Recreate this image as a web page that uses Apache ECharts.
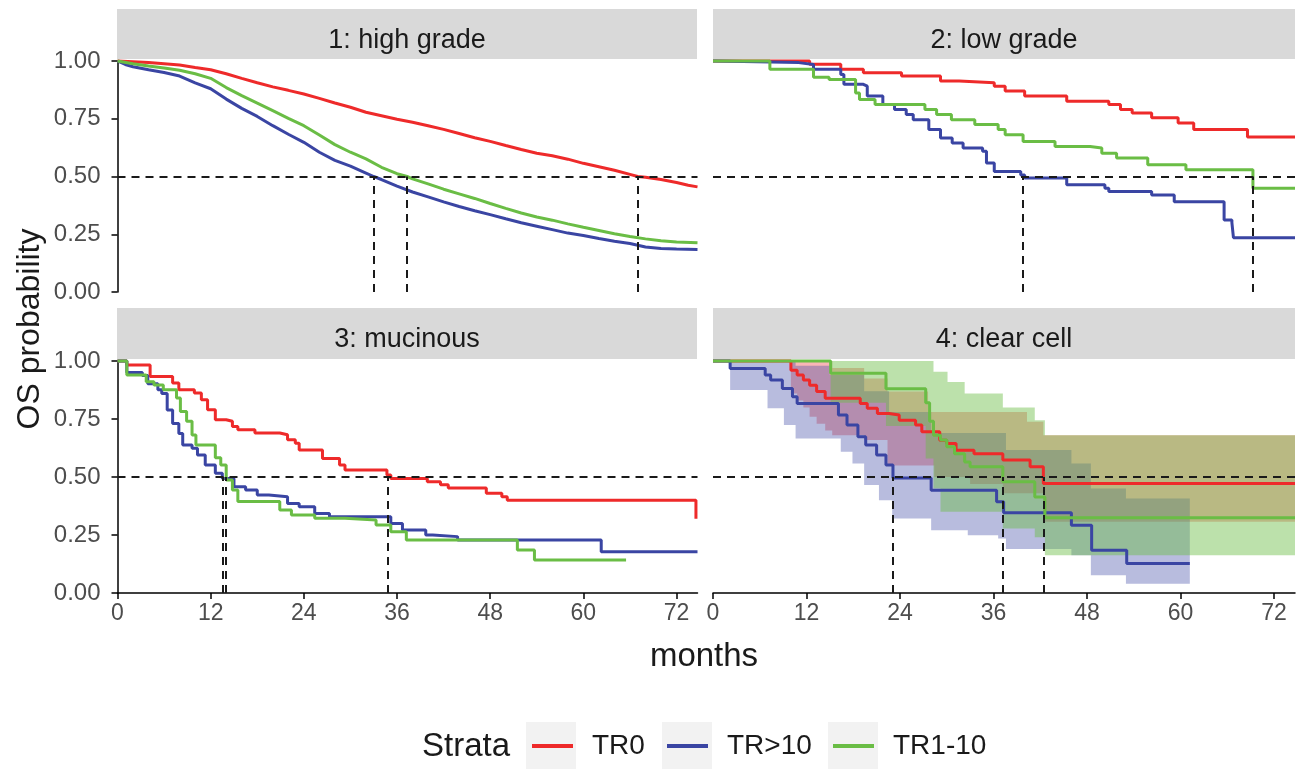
<!DOCTYPE html>
<html>
<head>
<meta charset="utf-8">
<script src="https://cdn.jsdelivr.net/npm/echarts@6/dist/echarts.min.js"></script>
<style>
html,body{margin:0;padding:0;background:#fff;}
#chart{width:1298px;height:769px;}
</style>
</head>
<body>
<div id="chart"></div>
<script>
// ---------------- DATA ----------------
const strata = ['TR0', 'TR>10', 'TR1-10'];
const panelTitles = ['1: high grade', '2: low grade', '3: mucinous', '4: clear cell'];
const xTicks = [0, 12, 24, 36, 48, 60, 72];
const yTicks = [0, 0.25, 0.5, 0.75, 1];

// Panel 1: high grade  [months, survival]
const p1TR0 = [[0,1],[2,0.997],[4,0.993],[6,0.988],[8,0.983],[10,0.972],[12,0.962],[14,0.945],[16,0.925],[18,0.906],[20,0.888],[22,0.873],[24,0.857],[26,0.838],[28,0.818],[30,0.8],[32,0.778],[34,0.763],[36,0.748],[38,0.735],[40,0.72],[42,0.704],[44,0.686],[46,0.668],[48,0.652],[50,0.634],[52,0.617],[54,0.601],[56,0.59],[58,0.575],[60,0.557],[62,0.542],[64,0.527],[66,0.509],[67,0.5],[68,0.497],[70,0.487],[72,0.474],[73.5,0.462],[74.7,0.455]];
const p1TRgt10 = [[0,1],[1,0.985],[2,0.975],[4,0.962],[6,0.95],[8,0.935],[10,0.905],[12,0.88],[14,0.835],[16,0.795],[18,0.76],[20,0.72],[22,0.683],[24,0.648],[26,0.605],[28,0.57],[30,0.545],[32,0.515],[33,0.5],[34,0.487],[36,0.458],[38,0.433],[40,0.412],[42,0.39],[44,0.37],[46,0.352],[48,0.335],[50,0.317],[52,0.3],[54,0.285],[56,0.27],[58,0.255],[60,0.245],[62,0.232],[64,0.22],[66,0.21],[68,0.195],[70,0.188],[72,0.186],[74.7,0.184]];
const p1TR1to10 = [[0,1],[2,0.988],[4,0.978],[6,0.97],[8,0.96],[10,0.945],[12,0.925],[14,0.885],[16,0.85],[18,0.818],[20,0.785],[22,0.752],[24,0.72],[26,0.68],[28,0.638],[30,0.605],[32,0.576],[34,0.54],[36,0.512],[37.3,0.5],[38,0.49],[40,0.468],[42,0.445],[44,0.425],[46,0.405],[48,0.383],[50,0.362],[52,0.342],[54,0.325],[56,0.311],[58,0.295],[60,0.28],[62,0.266],[64,0.252],[66,0.24],[68,0.23],[70,0.222],[72,0.216],[74.7,0.213]];
const p1Medians = [67.0, 33.0, 37.3];

// Panel 2: low grade
const p2TR0 = [[0,1],[12.4,0.986],[16.4,0.964],[19.3,0.949],[24.2,0.935],[29.2,0.913],[31.6,0.906],[36.1,0.891],[37.5,0.87],[40.0,0.848],[45.4,0.826],[50.8,0.812],[52.3,0.79],[53.8,0.775],[56.3,0.754],[59.7,0.732],[61.7,0.703],[68.6,0.671],[74.7,0.671]];
const p2TRgt10 = [[0,1],[0.3,0.993],[11.0,0.985],[12.9,0.964],[16.4,0.942],[16.8,0.899],[19.3,0.891],[19.8,0.848],[21.8,0.812],[23.3,0.79],[24.8,0.768],[25.7,0.746],[27.7,0.703],[29.2,0.667],[30.7,0.645],[32.1,0.623],[34.6,0.609],[35.1,0.558],[36.1,0.522],[39.5,0.507],[40.0,0.493],[45.4,0.464],[50.3,0.449],[50.8,0.435],[56.3,0.42],[59.2,0.391],[65.6,0.312],[66.6,0.3],[66.8,0.235],[74.7,0.235]];
const p2TR1to10 = [[0,1],[7.3,0.964],[12.9,0.93],[14.9,0.92],[18.3,0.862],[18.8,0.833],[20.8,0.812],[27.2,0.79],[28.7,0.768],[30.6,0.746],[33.6,0.725],[36.6,0.703],[37.5,0.681],[39.8,0.652],[43.9,0.63],[48.4,0.623],[49.9,0.601],[51.8,0.58],[55.8,0.551],[60.7,0.529],[69.3,0.449],[74.7,0.449]];
const p2Medians = [39.8, 69.3];

// Panel 3: mucinous
const p3TR0 = [[0,1],[1.2,0.983],[4.2,0.933],[7.1,0.905],[7.9,0.876],[9.9,0.862],[10.8,0.833],[11.6,0.79],[12.6,0.747],[14.0,0.74],[14.8,0.718],[15.5,0.704],[17.7,0.69],[20.9,0.682],[21.9,0.661],[22.9,0.645],[23.4,0.616],[26.4,0.58],[28.6,0.552],[29.3,0.53],[34.7,0.509],[35.2,0.494],[39.9,0.48],[41.6,0.467],[42.6,0.453],[47.5,0.43],[49.5,0.415],[50.2,0.4],[74.5,0.32]];
const p3TRgt10 = [[0,1],[1.2,0.95],[3.2,0.937],[3.9,0.902],[5.2,0.876],[5.7,0.86],[6.4,0.789],[7.1,0.731],[7.9,0.688],[8.4,0.638],[9.6,0.624],[10.3,0.595],[11.3,0.552],[12.6,0.516],[13.5,0.494],[15.0,0.458],[16.5,0.444],[18.0,0.422],[19.5,0.415],[21.9,0.386],[23.4,0.372],[25.4,0.343],[27.3,0.329],[35.2,0.3],[36.7,0.272],[39.7,0.25],[40.6,0.243],[43.8,0.228],[62.3,0.178],[74.7,0.178]];
const p3TR1to10 = [[0,1],[1.2,0.94],[3.7,0.911],[4.7,0.897],[5.9,0.876],[7.6,0.84],[8.1,0.782],[8.9,0.74],[9.6,0.681],[10.1,0.638],[12.6,0.583],[13.3,0.552],[14.0,0.487],[14.8,0.444],[15.5,0.394],[20.9,0.358],[22.4,0.336],[25.4,0.322],[29.3,0.315],[33.3,0.293],[35.2,0.264],[37.2,0.228],[51.5,0.185],[53.7,0.142],[65.5,0.142]];
const p3Medians = [34.8, 13.6, 13.9];

// Panel 4: clear cell (with confidence bands)
const p4TR0 = [[0,1],[10.0,0.96],[10.8,0.94],[11.6,0.918],[12.4,0.896],[13.3,0.868],[14.4,0.839],[18.9,0.817],[19.8,0.796],[21.1,0.774],[22.6,0.767],[23.9,0.745],[26.0,0.724],[26.8,0.695],[29.1,0.658],[30.0,0.644],[31.2,0.615],[33.5,0.6],[37.2,0.573],[40.7,0.544],[42.4,0.472],[74.7,0.472]];
const p4TRgt10 = [[0,1],[2.2,0.968],[6.7,0.94],[7.4,0.918],[8.9,0.882],[10.2,0.846],[10.8,0.817],[16.1,0.767],[17.2,0.724],[18.6,0.674],[19.6,0.638],[21.0,0.595],[22.2,0.552],[23.1,0.496],[28.0,0.443],[36.4,0.393],[37.3,0.346],[46.0,0.292],[48.6,0.184],[53.1,0.127],[61.2,0.127]];
const p4TR1to10 = [[0,1],[15.1,0.947],[22.2,0.88],[27.3,0.82],[27.8,0.74],[28.3,0.68],[29.2,0.66],[30.0,0.63],[31.0,0.6],[32.3,0.565],[33.0,0.544],[37.2,0.48],[41.3,0.414],[42.6,0.324],[74.7,0.324]];
const p4Medians = [42.4, 23.1, 37.2];

const ciTR0Time  = [0, 10.0, 10.8, 11.6, 12.4, 13.3, 14.4, 15.3, 19.4, 22.4, 27.6, 28.4, 33.0, 37.2, 40.3, 42.4, 74.7];
const ciTR0Low   = [1.0, 0.86, 0.83, 0.8, 0.76, 0.73, 0.7, 0.68, 0.66, 0.55, 0.55, 0.5, 0.47, 0.43, 0.43, 0.307, 0.307];
const ciTR0Up    = [1.0, 1.0, 1.0, 1.0, 1.0, 1.0, 1.0, 0.97, 0.925, 0.868, 0.78, 0.78, 0.78, 0.78, 0.738, 0.68, 0.68];
const ciTRgt10Time = [0, 2.2, 7.0, 9.1, 10.6, 15.0, 16.4, 17.9, 19.4, 21.3, 22.6, 23.0, 28.0, 32.7, 36.6, 37.6, 46.0, 48.5, 53.0, 61.2];
const ciTRgt10Low  = [1.0, 0.875, 0.796, 0.724, 0.666, 0.666, 0.609, 0.558, 0.465, 0.4, 0.4, 0.321, 0.27, 0.249, 0.235, 0.19, 0.163, 0.076, 0.04, 0.04];
const ciTRgt10Up   = [1.0, 1.0, 1.0, 1.0, 0.98, 0.94, 0.94, 0.94, 0.87, 0.87, 0.78, 0.78, 0.69, 0.69, 0.69, 0.616, 0.558, 0.45, 0.407, 0.407];
const ciTR1to10Time = [0, 15.1, 22.2, 27.3, 28.3, 29.2, 30.1, 32.3, 37.2, 41.3, 42.6, 74.7];
const ciTR1to10Low  = [1.0, 0.82, 0.72, 0.58, 0.45, 0.35, 0.35, 0.35, 0.278, 0.24, 0.163, 0.163];
const ciTR1to10Up   = [1.0, 1.0, 1.0, 1.0, 0.954, 0.954, 0.91, 0.86, 0.8, 0.745, 0.68, 0.68];

// ---------------- STYLE ----------------
const colors = {'TR0': '#EE2A2A', 'TR>10': '#3A45A3', 'TR1-10': '#6ABD45'};
const bandFill = {'TR0': 'rgba(238,42,42,0.34)', 'TR>10': 'rgba(58,69,163,0.36)', 'TR1-10': 'rgba(106,189,69,0.45)'};
const FONT = 'Liberation Sans, Arial, Helvetica, sans-serif';
const XMAX = 74.7;
const grids = [
  {left: 117.5, top: 61, width: 580, height: 231},
  {left: 713, top: 61, width: 582, height: 231},
  {left: 117.5, top: 361, width: 580, height: 232},
  {left: 713, top: 361, width: 582, height: 232}
];

const panels = [
  {lines: [['TR0', p1TR0], ['TR>10', p1TRgt10], ['TR1-10', p1TR1to10]], medians: p1Medians, step: false},
  {lines: [['TR0', p2TR0], ['TR>10', p2TRgt10], ['TR1-10', p2TR1to10]], medians: p2Medians, step: 'end'},
  {lines: [['TR0', p3TR0], ['TR>10', p3TRgt10], ['TR1-10', p3TR1to10]], medians: p3Medians, step: 'end'},
  {lines: [['TR0', p4TR0], ['TR>10', p4TRgt10], ['TR1-10', p4TR1to10]], medians: p4Medians, step: 'end'}
];
const bands = [
  ['TR0', ciTR0Time, ciTR0Low, ciTR0Up],
  ['TR>10', ciTRgt10Time, ciTRgt10Low, ciTRgt10Up],
  ['TR1-10', ciTR1to10Time, ciTR1to10Low, ciTR1to10Up]
];

const series = [];
// confidence bands (panel 4): one step polygon per stratum, projected via api.coord
bands.forEach(([name, t, lo, up]) => {
  series.push({
    type: 'custom', name: 'ci_' + name, xAxisIndex: 3, yAxisIndex: 3, silent: true, z: 1,
    encode: {x: 0, y: [1, 2]},
    data: t.map((x, i) => [x, lo[i], up[i]]),
    renderItem: function (params, api) {
      if (params.dataIndex !== 0) return null;
      const pts = [];
      const n = t.length;
      for (let i = 0; i < n - 1; i++) {
        pts.push(api.coord([t[i], up[i]]));
        pts.push(api.coord([t[i + 1], up[i]]));
      }
      for (let i = n - 2; i >= 0; i--) {
        pts.push(api.coord([t[i + 1], lo[i]]));
        pts.push(api.coord([t[i], lo[i]]));
      }
      return {type: 'polygon', shape: {points: pts}, style: {fill: bandFill[name], stroke: null}};
    }
  });
});

panels.forEach((p, gi) => {
  p.lines.forEach(([name, data], li) => {
    const s = {
      type: 'line', name: name, xAxisIndex: gi, yAxisIndex: gi,
      data: data, step: p.step, symbol: 'none', showSymbol: false, clip: false, z: 2,
      lineStyle: {width: 3, color: colors[name]},
      itemStyle: {color: colors[name]}
    };
    if (li === p.lines.length - 1) {
      const ml = [{yAxis: 0.5}];
      p.medians.forEach(m => ml.push([{coord: [m, 0]}, {coord: [m, 0.5]}]));
      s.markLine = {
        silent: true, symbol: 'none', animation: false, z: 5,
        label: {show: false},
        lineStyle: {color: '#1A1A1A', width: 2, type: [8, 6]},
        data: ml
      };
    }
    series.push(s);
  });
});

const xAxes = grids.map((g, i) => ({
  gridIndex: i, type: 'value', min: 0, max: XMAX,
  show: i >= 2,
  axisLine: {show: true, lineStyle: {color: '#000', width: 1.5}},
  axisTick: {show: true, length: 6, customValues: xTicks, lineStyle: {color: '#000', width: 1.5}},
  axisLabel: {show: true, customValues: xTicks, margin: 9, color: '#4D4D4D', fontSize: 23, fontFamily: FONT},
  splitLine: {show: false}
}));
const yAxes = grids.map((g, i) => ({
  gridIndex: i, type: 'value', min: 0, max: 1,
  show: i === 0 || i === 2,
  axisLine: {show: true, lineStyle: {color: '#000', width: 1.5}},
  axisTick: {show: true, length: 6, customValues: yTicks, lineStyle: {color: '#000', width: 1.5}},
  axisLabel: {show: true, customValues: yTicks, margin: 17, color: '#4D4D4D', fontSize: 24, fontFamily: FONT,
              formatter: v => Number(v).toFixed(2)},
  splitLine: {show: false}
}));

// strips + annotations
const graphics = [];
const strips = [
  {x: 117, y: 9, w: 580, h: 50},
  {x: 713, y: 9, w: 582, h: 50},
  {x: 117, y: 308, w: 580, h: 51},
  {x: 713, y: 308, w: 582, h: 51}
];
strips.forEach((s, i) => {
  graphics.push({type: 'rect', shape: {x: s.x, y: s.y, width: s.w, height: s.h}, style: {fill: '#D9D9D9'}, z: 0});
  graphics.push({type: 'text', x: s.x + s.w / 2, y: s.y + 32, z: 1,
    style: {text: panelTitles[i], fill: '#1A1A1A', font: '27px ' + FONT, textAlign: 'center', textVerticalAlign: 'middle'}});
});
graphics.push({type: 'text', x: 30, y: 329, rotation: Math.PI / 2,
  style: {text: 'OS probability', fill: '#1A1A1A', font: '32px ' + FONT, textAlign: 'center', textVerticalAlign: 'middle'}});
graphics.push({type: 'text', x: 704, y: 657,
  style: {text: 'months', fill: '#1A1A1A', font: '33px ' + FONT, textAlign: 'center', textVerticalAlign: 'middle'}});
graphics.push({type: 'text', x: 422, y: 747,
  style: {text: 'Strata', fill: '#1A1A1A', font: '33px ' + FONT, textAlign: 'left', textVerticalAlign: 'middle'}});
const keyBoxes = [526, 662, 828];
keyBoxes.forEach(x => graphics.push({type: 'rect', shape: {x: x, y: 722, width: 50, height: 47}, style: {fill: '#F2F2F2'}, z: 0}));

const legendLeft = [532, 667, 833];
const legends = strata.map((name, i) => ({
  data: [name], left: legendLeft[i], top: 732, padding: 0,
  icon: 'rect', itemWidth: 41, itemHeight: 4, itemGap: 0,
  textStyle: {fontSize: 28, color: '#1A1A1A', fontFamily: FONT, padding: [0, 0, 0, 14]}
}));

const chart = echarts.init(document.getElementById('chart'), null, {renderer: 'canvas'});
chart.setOption({
  backgroundColor: '#FFFFFF',
  animation: false,
  textStyle: {fontFamily: FONT},
  grid: grids,
  xAxis: xAxes,
  yAxis: yAxes,
  legend: legends,
  graphic: graphics,
  series: series
});
</script>
</body>
</html>
